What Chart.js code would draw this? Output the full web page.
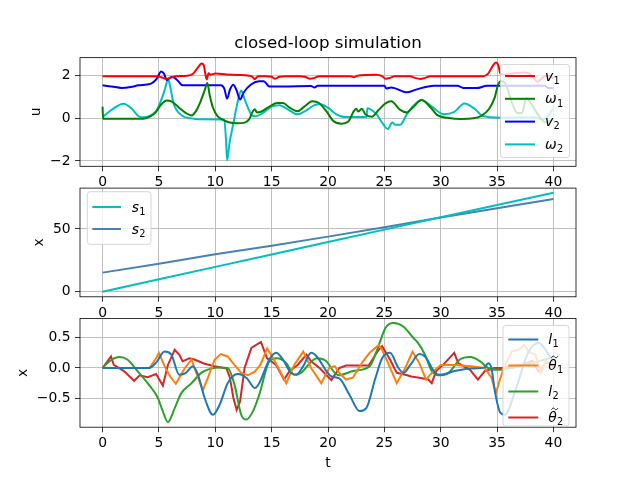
<!DOCTYPE html>
<html><head><meta charset="utf-8">
<script src="https://cdn.jsdelivr.net/npm/chart.js@4.4.0/dist/chart.umd.min.js"></script>
<style>
html,body{margin:0;padding:0;background:#fff;}
#wrap{position:relative;width:640px;height:480px;background:#fff;}
canvas{position:absolute;left:0;top:0;}
</style></head><body>
<div id="wrap">
<canvas id="c1" width="640" height="480"></canvas>
<canvas id="c2" width="640" height="480"></canvas>
<canvas id="c3" width="640" height="480"></canvas>
</div>
<script>
// ---------- tick labels ----------
const xTicks = [0,5,10,15,20,25,30,35,40];
const uTicks = [-2,0,2];
const sTicks = [0,50];
const eTicks = [-0.5,0,0.5];

// ---------- top panel: inputs u ----------
const v1T = [0,4.8,5.2,5.6,6.0,6.5,7.5,8.0,8.4,8.8,9.0,9.15,9.25,9.4,9.6,10.0,11.0,12.0,13.0,13.3,13.5,13.8,14.5,15.0,15.3,15.7,16.2,17.5,18.0,18.4,18.8,19.2,22.0,22.3,22.6,24.3,24.8,25.1,25.5,25.9,27.3,27.7,28.2,28.6,29.1,33.8,34.2,34.6,34.9,35.1,35.3,35.6,36.5,37.5,38.1,38.6,39.1,39.6,40];
const v1Y = [1.98,1.98,1.93,1.86,1.9,1.98,2.0,2.08,2.35,2.57,2.45,2.0,1.82,2.12,2.05,2.1,2.06,2.04,2.0,1.95,1.84,1.98,1.98,1.95,1.86,1.95,1.98,1.98,1.94,1.86,1.9,1.98,1.98,1.93,2.0,2.05,1.98,1.86,1.9,1.98,1.98,1.9,1.85,1.9,1.98,1.98,2.1,2.45,2.62,2.5,2.1,2.05,2.12,2.15,2.0,1.72,1.95,2.0,1.88];

const w1T = [0,0.05,3.6,4.2,4.7,5.2,5.7,6.1,6.8,7.4,7.9,8.3,8.7,9.05,9.3,9.5,9.8,10.2,10.6,11.2,11.9,12.6,13.0,13.3,13.5,13.7,14.0,14.8,15.5,16.0,16.6,17.3,17.9,18.6,19.2,19.9,20.5,21.2,21.8,22.3,22.5,22.7,23.0,23.3,23.9,24.5,25.1,25.6,26.4,27.0,27.5,28.3,29.2,29.7,30.6,31.8,32.9,33.6,34.3,34.8,35.1,35.4,35.8,36.3,36.8,37.2,37.6,38.0,38.6,39.3,40];
const w1Y = [0.55,-0.02,-0.02,0.08,0.27,0.65,0.84,0.8,0.5,0.25,0.14,0.35,0.8,1.3,1.66,1.1,0.5,0.1,-0.05,-0.18,-0.23,-0.2,-0.05,0.3,0.43,0.28,0.3,0.55,0.72,0.72,0.5,0.33,0.55,0.8,0.72,0.3,-0.14,-0.25,-0.15,0.35,0.45,0.32,0.45,0.2,0.08,0.4,0.7,0.8,0.4,0.28,0.5,0.86,0.45,0.15,0.03,-0.03,0.0,0.12,0.45,1.0,1.6,1.75,1.55,0.75,0.25,0.25,0.95,0.7,0.2,-0.2,-0.05];

const v2T = [0,0.8,1.7,2.5,3.2,4.3,4.8,5.2,5.45,5.7,6.1,6.4,6.7,7.1,10.5,10.8,11.05,11.3,11.6,11.9,12.2,12.5,13.2,13.9,14.3,14.8,16.0,18.5,18.8,19.1,25.0,25.2,25.6,27.0,27.8,29.4,31.5,32.0,33.2,34.1,39.2,39.6,40];
const v2Y = [1.55,1.5,1.43,1.47,1.55,1.63,1.85,2.2,2.1,1.8,1.94,1.9,1.75,1.55,1.55,1.4,0.92,1.35,1.58,1.3,0.88,1.2,1.6,1.74,1.74,1.5,1.5,1.52,1.45,1.53,1.53,1.4,1.45,1.22,1.35,1.53,1.53,1.43,1.42,1.53,1.53,1.42,1.42];

const w2T = [0,0.8,1.85,2.6,3.2,3.6,4.2,4.8,5.3,5.6,5.8,6.0,6.3,7.0,7.9,8.5,10.8,10.95,11.05,11.25,11.6,12.0,12.3,12.6,12.9,13.3,13.6,14.2,15.0,15.7,16.5,17.3,18.0,18.8,19.3,20.0,20.7,21.5,23.4,23.5,23.7,24.3,24.8,25.3,25.7,26.0,26.4,27.0,27.6,28.3,29.1,30.3,31.2,32.1,33.0,33.7,35.3,38.3,39.0,39.5,40];
const w2Y = [0.06,0.4,0.69,0.45,0.1,0.05,0.12,0.38,1.0,1.5,1.86,1.5,0.7,0.15,0.0,-0.04,-0.05,-1.0,-1.97,-1.2,-0.25,0.8,1.31,0.9,0.5,0.12,0.1,0.25,0.55,0.62,0.4,0.19,0.35,0.62,0.66,0.5,0.2,0.06,0.06,0.48,0.45,0.2,-0.2,-0.5,-0.2,-0.3,-0.3,0.2,0.6,0.86,0.6,0.19,0.3,0.7,0.45,0.12,0.03,0.05,-0.05,0.1,0.47];

// ---------- middle panel: positions x ----------
const sT  = [0,5,10,15,20,25,30,35,40];
const s1Y = [0,9.9,19.8,29.7,39.6,49.5,59.3,69.2,78.9];
const s2Y = [15.2,22.3,29.8,36.7,43.9,51.3,59.1,66.5,73.9];

// ---------- bottom panel: errors x ----------
const l1T = [0,4.15,4.8,5.5,6.1,6.8,7.4,8.0,8.45,9.05,9.8,10.4,11.1,12.0,12.8,13.5,13.9,14.8,15.4,16.0,16.7,17.2,17.8,18.5,19.0,19.85,20.3,21.0,21.9,22.8,23.4,24.2,24.8,25.5,26.25,26.7,27.3,28.1,28.6,29.5,30.0,31.25,32.7,33.9,34.2,34.5,34.8,35.3,35.7,36.6,37.8,38.7,39.3,40];
const l1Y = [0,0,0.1,0.27,0.22,-0.11,-0.08,0.03,-0.1,-0.49,-0.77,-0.6,-0.25,-0.1,-0.17,-0.33,-0.25,0.14,0.25,0.14,-0.08,-0.11,0.03,0.25,0.19,-0.05,-0.14,-0.17,-0.44,-0.71,-0.66,-0.17,0.16,0.25,0.0,-0.08,0.05,0.23,0.19,-0.08,-0.11,-0.05,-0.01,0.01,0.08,0.0,-0.38,-0.74,-0.77,-0.38,0.27,0.41,0.3,0.1];

const th1T = [0,4.15,4.75,5.0,5.5,6.0,6.5,7.3,7.9,8.15,8.9,9.35,9.95,10.5,11.1,11.7,12.3,12.9,13.5,14.0,14.6,15.2,16.3,17.0,17.8,18.5,19.4,20.1,20.6,21.0,21.6,22.2,23.1,23.7,24.5,24.8,25.4,26.1,26.85,27.5,28.1,28.7,29.2,30.0,31.25,32.7,33.9,34.5,34.9,35.3,35.6,36.3,36.9,37.4,37.8,38.4,38.9,39.3,40];
const th1Y = [0,0,0.16,0.25,0.03,-0.14,-0.26,0.0,0.14,0.0,-0.37,-0.16,0.14,0.23,0.19,0.05,-0.08,-0.12,-0.06,0.05,0.32,0.14,-0.25,0.05,0.27,0.0,-0.25,0.0,0.03,-0.08,-0.19,-0.16,0.11,0.25,0.38,0.3,0.05,-0.25,0.0,0.27,0.08,-0.19,-0.08,0.05,0.05,0.03,0.0,-0.16,-0.41,-0.16,0.0,0.27,0.3,0.38,0.27,0.22,-0.08,0.11,0.05];

const l2T = [0,0.6,1.5,2.2,3.1,4.0,4.9,5.3,5.8,6.4,7.0,7.9,8.75,9.6,10.5,11.1,11.7,12.3,12.75,13.35,13.9,14.8,15.5,16.3,17.0,17.6,18.4,19.0,19.85,20.6,21.0,22.2,23.7,24.3,25.1,25.8,26.7,27.6,28.0,28.6,29.2,29.8,30.7,31.7,32.6,33.5,34.2,35.1,36.3,38.1,40];
const l2Y = [0,0.11,0.18,0.14,-0.05,-0.25,-0.49,-0.69,-0.89,-0.66,-0.41,-0.25,-0.08,-0.01,0.01,0.0,-0.27,-0.77,-0.85,-0.71,-0.44,0.11,0.16,0.08,-0.11,-0.08,0.08,0.16,0.11,-0.08,-0.12,-0.05,0.03,0.27,0.66,0.74,0.68,0.49,0.41,0.22,-0.05,-0.12,-0.08,0.14,0.18,0.11,0.0,-0.03,0.0,0.08,0.18];

const th2T = [0,0.75,1.0,1.9,2.8,3.3,4.0,4.75,5.35,5.8,6.4,6.8,7.1,7.7,8.15,9.05,9.95,11.0,11.3,11.6,11.9,12.2,12.6,13.2,14.05,14.6,15.4,16.1,16.6,17.3,18.1,18.5,19.25,20.3,21.0,21.6,23.6,24.5,24.8,25.5,26.1,26.85,27.4,28.1,28.9,29.2,29.6,30.35,31.2,31.55,32.6,33.3,33.9,34.8,35.4,36.3,37.2,38.1,38.7,39.4,40];
const th2Y = [0,0.19,0.05,-0.05,-0.21,-0.12,-0.15,-0.1,-0.29,0.05,0.3,0.22,0.11,0.16,0.14,0.07,0.03,-0.01,-0.16,-0.49,-0.69,-0.55,0.0,0.33,0.43,0.16,0.05,-0.19,-0.05,0.05,0.22,0.11,0.0,-0.2,0.0,0.04,0.04,0.3,0.36,0.14,-0.08,-0.11,-0.14,-0.16,-0.19,-0.25,-0.05,0.08,0.25,0.08,-0.03,-0.19,-0.05,0.0,0.0,0.03,0.05,0.12,-0.06,0.1,0.02];

// ---------- helpers ----------
const FF = "'DejaVu Sans', sans-serif";
const pts = (t, y) => t.map((x, i) => ({x: x, y: y[i]}));
const minusFmt = s => String(s).replace('-', '\u2212');
const SUBS = {'\u2080':'0','\u2081':'1','\u2082':'2','\u2083':'3'};

function ds(label, t, y, color, smooth) {
  return {label, data: pts(t, y), borderColor: color, backgroundColor: color,
    borderWidth: 2, pointRadius: 0, fill: false,
    cubicInterpolationMode: smooth ? 'monotone' : 'default', tension: 0};
}

function xAxis(h, extra) {
  return Object.assign({
    type: 'linear', min: -2, max: 42,
    afterBuildTicks: s => { s.ticks = xTicks.map(v => ({value: v})); },
    afterFit: s => { s.height = h; },
    grid: {color: '#b0b0b0', lineWidth: 0.8, tickColor: '#000', tickLength: 5, tickWidth: 0.8},
    border: {display: false},
    ticks: {color: '#000', font: {family: FF, size: 13.9}, padding: 3, maxRotation: 0, autoSkip: false,
      callback: v => minusFmt(v)}
  }, extra || {});
}
function yAxis(min, max, tickVals, fmt, title, titlePad) {
  return {
    type: 'linear', min, max,
    afterBuildTicks: s => { s.ticks = tickVals.map(v => ({value: v})); },
    afterFit: s => { s.width = 80; },
    grid: {color: '#b0b0b0', lineWidth: 0.8, tickColor: '#000', tickLength: 5, tickWidth: 0.8},
    border: {display: false},
    ticks: {color: '#000', font: {family: FF, size: 13.9}, padding: 4.4, autoSkip: false,
      callback: v => minusFmt(fmt(v))},
    title: {display: true, text: title, color: '#000', font: {family: FF, size: 13.9},
      padding: {top: titlePad, bottom: 0}}
  };
}

// frame (spines) + matplotlib-like legend
const mplFrame = {
  id: 'mplFrame',
  afterDatasetsDraw(chart, args, opts) {
    const ctx = chart.ctx, a = chart.chartArea;
    ctx.save();
    ctx.strokeStyle = '#000'; ctx.lineWidth = 0.8;
    ctx.strokeRect(a.left, a.top, a.right - a.left, a.bottom - a.top);
    if (opts && opts.box) {
      const [x, y, w, h] = opts.box, r = 2.8;
      ctx.beginPath();
      ctx.moveTo(x + r, y);
      ctx.arcTo(x + w, y, x + w, y + h, r);
      ctx.arcTo(x + w, y + h, x, y + h, r);
      ctx.arcTo(x, y + h, x, y, r);
      ctx.arcTo(x, y, x + w, y, r);
      ctx.closePath();
      ctx.fillStyle = 'rgba(255,255,255,0.8)'; ctx.fill();
      ctx.strokeStyle = 'rgba(204,204,204,0.8)'; ctx.lineWidth = 1; ctx.stroke();
      chart.data.datasets.forEach((d, i) => {
        const cy = y + opts.first + i * opts.step;
        ctx.beginPath();
        ctx.moveTo(opts.hx[0], cy); ctx.lineTo(opts.hx[1], cy);
        ctx.strokeStyle = d.borderColor; ctx.lineWidth = 2; ctx.stroke();
        // label: italic base + smaller upright subscript (mathtext-like)
        const lab = d.label;
        const last = lab.slice(-1);
        let base = SUBS[last] ? lab.slice(0, -1) : lab;
        const sub = SUBS[last] || '';
        const hasTilde = base.indexOf('\u0303') >= 0;
        base = base.replace('\u0303', '');
        const baseY = cy + 4.6;
        ctx.fillStyle = '#000';
        ctx.textBaseline = 'alphabetic'; ctx.textAlign = 'left';
        ctx.font = 'italic 13.9px ' + FF;
        ctx.fillText(base, opts.tx, baseY);
        const bw = ctx.measureText(base).width;
        if (hasTilde) {
          // accent drawn over the glyph (matplotlib mathtext \tilde)
          const x0 = opts.tx + 3.2, x1 = opts.tx + 9.6, ty = baseY - 13.2;
          ctx.beginPath();
          ctx.moveTo(x0, ty + 0.8);
          ctx.bezierCurveTo(x0 + 1.5, ty - 1.8, x0 + 2.6, ty - 0.6, (x0 + x1) / 2, ty);
          ctx.bezierCurveTo(x1 - 2.6, ty + 0.6, x1 - 1.5, ty + 1.8, x1, ty - 0.8);
          ctx.strokeStyle = '#000'; ctx.lineWidth = 0.9; ctx.stroke();
        }
        if (sub) {
          ctx.font = '9.8px ' + FF;
          ctx.fillText(sub, opts.tx + bw + 0.3, baseY + 3.2);
        }
      });
    }
    ctx.restore();
  }
};

Chart.defaults.font.family = FF;
Chart.defaults.color = '#000';

const common = {responsive: false, animation: false, events: [], maintainAspectRatio: false};

// ---------- chart 1 ----------
new Chart(document.getElementById('c1'), {
  type: 'line',
  data: {datasets: [
    ds('v\u2081', v1T, v1Y, '#ff0000', true),
    ds('\u03c9\u2081', w1T, w1Y, '#008000', true),
    ds('v\u2082', v2T, v2Y, '#0000ff', true),
    ds('\u03c9\u2082', w2T, w2Y, '#00bfbf', true)
  ]},
  options: Object.assign({}, common, {
    layout: {padding: {left: 0, right: 64, top: 0, bottom: 480 - 166.3 - 30}},
    scales: {x: xAxis(30), y: yAxis(-2.25, 2.85, uTicks, v => v, 'u', 27.7)},
    plugins: {
      legend: {display: false}, tooltip: {enabled: false},
      title: {display: true, fullSize: false, text: 'closed-loop simulation', color: '#000',
        font: {family: FF, size: 16.7, weight: 'normal'}, padding: {top: 33.5, bottom: 4.1}},
      mplFrame: {box: [500.5, 64.5, 69, 93], first: 11.5, step: 22.8, hx: [505, 535], tx: 545}
    }
  }),
  plugins: [mplFrame]
});

// ---------- chart 2 ----------
new Chart(document.getElementById('c2'), {
  type: 'line',
  data: {datasets: [
    ds('s\u2081', sT, s1Y, '#00bfbf', false),
    ds('s\u2082', sT, s2Y, '#4682b4', false)
  ]},
  options: Object.assign({}, common, {
    layout: {padding: {left: 0, right: 64, top: 188.1, bottom: 480 - 296.8 - 30}},
    scales: {x: xAxis(30), y: yAxis(-4.07, 82.6, sTicks, v => v, 'x', 30.7)},
    plugins: {
      legend: {display: false}, tooltip: {enabled: false},
      mplFrame: {box: [87.3, 191.7, 63.7, 52.6], first: 15.3, step: 22, hx: [92.3, 121], tx: 131.7}
    }
  }),
  plugins: [mplFrame]
});

// ---------- chart 3 ----------
new Chart(document.getElementById('c3'), {
  type: 'line',
  data: {datasets: [
    ds('l\u2081', l1T, l1Y, '#1f77b4', true),
    ds('\u03b8\u0303\u2081', th1T, th1Y, '#ff7f0e', false),
    ds('l\u2082', l2T, l2Y, '#2ca02c', true),
    ds('\u03b8\u0303\u2082', th2T, th2Y, '#d62728', false)
  ]},
  options: Object.assign({}, common, {
    layout: {padding: {left: 0, right: 64, top: 318.5, bottom: 480 - 427.2 - 45}},
    scales: {
      x: xAxis(45, {title: {display: true, text: 't', color: '#000', font: {family: FF, size: 13.9},
        padding: {top: 0, bottom: 0.9}}}),
      y: yAxis(-0.975, 0.815, eTicks, v => Number(v).toFixed(1), 'x', 14.7)
    },
    plugins: {
      legend: {display: false}, tooltip: {enabled: false},
      mplFrame: {box: [503, 325.5, 66, 100.5], first: 14, step: 26, hx: [508.3, 538.3], tx: 548.3}
    }
  }),
  plugins: [mplFrame]
});
</script>
</body></html>
